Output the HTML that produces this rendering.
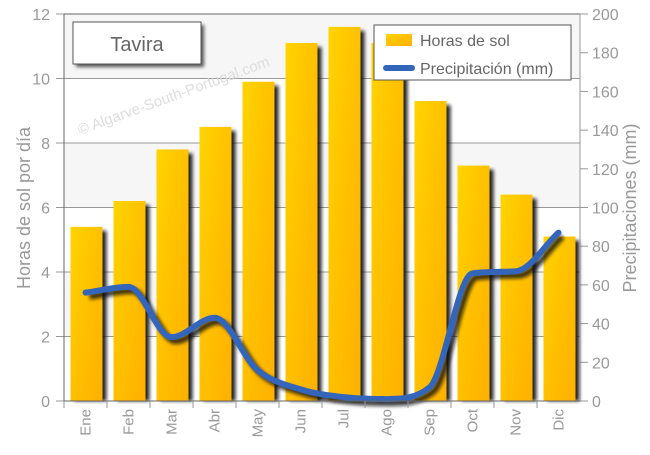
<!DOCTYPE html>
<html><head><meta charset="utf-8"><style>
body{margin:0;background:#fff;font-family:"Liberation Sans",sans-serif}
</style></head><body>
<svg id="c" width="650" height="450" xmlns="http://www.w3.org/2000/svg">
<defs>
<linearGradient id="bar" x1="0" y1="0" x2="1" y2="1"><stop offset="0" stop-color="#ffd400"/><stop offset="0.5" stop-color="#ffc000"/><stop offset="1" stop-color="#ffb000"/></linearGradient>
<filter id="sh" x="-20%" y="-20%" width="150%" height="150%"><feGaussianBlur stdDeviation="1.8"/></filter>
</defs>
<g id="g"></g>
</svg>
<script>
const months=["Ene","Feb","Mar","Abr","May","Jun","Jul","Ago","Sep","Oct","Nov","Dic"];
const sunHours=[5.4,6.2,7.8,8.5,9.9,11.1,11.6,11.1,9.3,7.3,6.4,5.1];
const precip=[56,59,33,43,16,6,2,1,7,66,67,87];
const leftTicks=[0,2,4,6,8,10,12];
const rightTicks=[0,20,40,60,80,100,120,140,160,180,200];
const NS="http://www.w3.org/2000/svg";
const L=64,R=580,T=14,B=401,bw=(R-L)/12;
const yL=v=>B-(v/12)*(B-T), yR=v=>B-(v/200)*(B-T), xC=i=>L+bw*i+bw/2;
const g=document.getElementById('g');
function mk(t,a,p){const e=document.createElementNS(NS,t);for(const k in a)e.setAttribute(k,a[k]);(p||g).appendChild(e);return e;}
let e=mk('rect',{x:L,y:T,width:R-L,height:B-T,fill:'#fff'});

for(let i=0;i<6;i++){ if(i%2==1){e=mk('rect',{x:L,y:yL(leftTicks[i+1]),width:R-L,height:yL(leftTicks[i])-yL(leftTicks[i+1]),fill:'#f6f6f6'});}}
leftTicks.forEach(v=>{
 e=mk('line',{x1:L-8,x2:R,y1:yL(v),y2:yL(v),stroke:'#999','stroke-width':1});
 e=mk('text',{x:L-14,y:yL(v)+6,'text-anchor':'end','font-size':16,fill:'#999'});e.textContent=v;
});
rightTicks.forEach(v=>{
 e=mk('line',{x1:R,x2:R+8,y1:yR(v),y2:yR(v),stroke:'#999'});
 e=mk('text',{x:R+12,y:yR(v)+6,'font-size':16,fill:'#999'});e.textContent=v;
});
e=mk('text',{x:80,y:135,'font-size':15,fill:'#ddd',transform:'rotate(-20 80 135)'});e.textContent='© Algarve-South-Portugal.com';
sunHours.forEach((v,i)=>{
 const x=L+bw*i+6.5,w=32;
 e=mk('rect',{x:x+4,y:yL(v)+4,width:w,height:B-yL(v)-4,fill:'#111',opacity:0.9,filter:'url(#sh)'});
 e=mk('rect',{x:x,y:yL(v),width:w,height:B-yL(v),fill:'url(#bar)'});
});
function path(){
 const p=precip.map((v,i)=>[xC(i),yR(v)]);const n=p.length;
 const d=[],m=[];
 for(let i=0;i<n-1;i++)d.push((p[i+1][1]-p[i][1])/(p[i+1][0]-p[i][0]));
 m[0]=d[0];m[n-1]=d[n-2];
 for(let i=1;i<n-1;i++){m[i]=(d[i-1]*d[i]<=0)?0:(d[i-1]+d[i])/2;}
 for(let i=0;i<n-1;i++){if(d[i]===0){m[i]=0;m[i+1]=0;continue;}const a=m[i]/d[i],b=m[i+1]/d[i],s=a*a+b*b;if(s>9){const t=3/Math.sqrt(s);m[i]=t*a*d[i];m[i+1]=t*b*d[i];}}
 let s='M'+p[0][0]+','+p[0][1];
 for(let i=0;i<n-1;i++){const h=(p[i+1][0]-p[i][0])/3;
  s+=' C'+(p[i][0]+h)+','+(p[i][1]+m[i]*h)+' '+(p[i+1][0]-h)+','+(p[i+1][1]-m[i+1]*h)+' '+p[i+1][0]+','+p[i+1][1];}
 return s;}
e=mk('path',{d:path(),fill:'none',stroke:'#111','stroke-width':6,opacity:0.8,transform:'translate(4,4)',filter:'url(#sh)'});
e=mk('path',{d:path(),fill:'none',stroke:'#3366bb','stroke-width':6,'stroke-linecap':'round'});
e=mk('line',{x1:L,x2:R,y1:T,y2:T,stroke:'#666'});
e=mk('line',{x1:L,x2:L,y1:T,y2:B,stroke:'#666'});
e=mk('line',{x1:R,x2:R,y1:T,y2:B,stroke:'#999'});
e=mk('line',{x1:L,x2:R,y1:B,y2:B,stroke:'#666'});
months.forEach((m,i)=>{
 e=mk('line',{x1:L+bw*i,x2:L+bw*i,y1:B,y2:B+7,stroke:'#999'});
 e=mk('text',{x:xC(i)+5,y:B+8,'font-size':15,fill:'#999','text-anchor':'end',transform:'rotate(-90 '+(xC(i)+5)+' '+(B+8)+')'});e.textContent=m;
});
e=mk('text',{x:30,y:208,'font-size':18,fill:'#999','text-anchor':'middle',transform:'rotate(-90 30 208)'});e.textContent='Horas de sol por día';
e=mk('text',{x:636,y:208,'font-size':18,fill:'#999','text-anchor':'middle',transform:'rotate(-90 636 208)'});e.textContent='Precipitaciones (mm)';
e=mk('rect',{x:76,y:25,width:128,height:42,fill:'#555',filter:'url(#sh)'});
e=mk('rect',{x:73,y:22,width:128,height:42,fill:'#fff',stroke:'#555'});
e=mk('text',{x:137,y:51,'font-size':20,fill:'#666','text-anchor':'middle'});e.textContent='Tavira';
e=mk('rect',{x:374,y:25,width:197,height:55,fill:'#fff',stroke:'#555'});
e=mk('rect',{x:386,y:34,width:26,height:12,fill:'url(#bar)'});
e=mk('text',{x:420,y:46,'font-size':16,fill:'#666'});e.textContent='Horas de sol';
e=mk('line',{x1:386,x2:412,y1:68,y2:68,stroke:'#3366bb','stroke-width':6,'stroke-linecap':'round'});
e=mk('text',{x:420,y:74,'font-size':16,fill:'#666'});e.textContent='Precipitación (mm)';
</script>
</body></html>
